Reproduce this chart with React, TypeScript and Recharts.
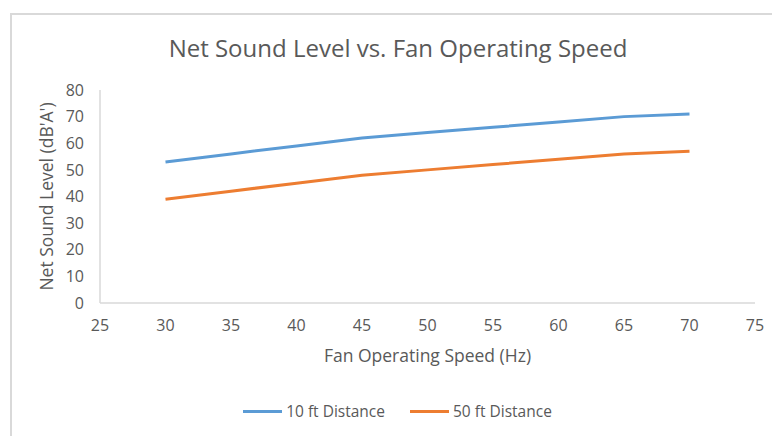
import React from 'react';
import { LineChart, Line, XAxis, YAxis, Legend } from 'recharts';

// fan speed (Hz) and net sound level (dB'A') at two distances
const speeds = [30, 35, 40, 45, 50, 55, 60, 65, 70];
const dist10ft = [53, 56, 59, 62, 64, 66, 68, 70, 71];
const dist50ft = [39, 42, 45, 48, 50, 52, 54, 56, 57];
const xTicks = [25, 30, 35, 40, 45, 50, 55, 60, 65, 70, 75];
const yTicks = [0, 10, 20, 30, 40, 50, 60, 70, 80];

const seriesNames = ['10 ft Distance', '50 ft Distance'];
const colors = ['#5B9BD5', '#ED7D31'];

const data = speeds.map((s, i) => ({ speed: s, d10: dist10ft[i], d50: dist50ft[i] }));

const FONT = "'Open Sans', sans-serif";
const TEXT = '#595959';
const AXIS = '#d9d9d9';

const LegendBox = () => (
    <div style={{ display: 'flex', justifyContent: 'center', alignItems: 'center', gap: '25px', fontFamily: FONT, fontSize: '15.5px', color: TEXT }}>
        {seriesNames.map((n, i) => (
            <div key={n} style={{ display: 'flex', alignItems: 'center' }}>
                <span style={{ display: 'inline-block', width: '39px', height: '3px', background: colors[i], marginRight: '4px' }} />
                <span>{n}</span>
            </div>
        ))}
    </div>
);

export default function App() {
    return (
        <div style={{ position: 'absolute', left: 0, top: 0, width: 772, height: 436, background: '#fff', overflow: 'hidden' }}>
            <div style={{ position: 'absolute', left: 10, top: 13, width: 800, height: 500, borderLeft: `2px solid ${AXIS}`, borderTop: `2px solid ${AXIS}` }} />
            <div style={{ position: 'absolute', left: 0, width: 796, top: 36, textAlign: 'center', fontFamily: FONT, fontSize: '24px', lineHeight: '24px', color: TEXT }}>
                Net Sound Level vs. Fan Operating Speed
            </div>
            <div style={{ position: 'absolute', left: 0, top: 0 }}>
                <LineChart width={772} height={436} data={data} margin={{ top: 90, right: 17, bottom: 6, left: 40 }} style={{ fontFamily: FONT }}>
                    <XAxis
                        dataKey="speed"
                        type="number"
                        domain={[25, 75]}
                        ticks={xTicks}
                        height={97}
                        stroke={AXIS}
                        strokeWidth={1.5}
                        tickLine={false}
                        tickMargin={11}
                        tick={{ fontSize: 16, fill: TEXT, fontFamily: FONT }}
                        label={{ value: 'Fan Operating Speed (Hz)', position: 'insideBottom', offset: 38, fill: TEXT, fontSize: 17.5, fontFamily: FONT }}
                    />
                    <YAxis
                        type="number"
                        domain={[0, 80]}
                        ticks={yTicks}
                        width={60}
                        stroke={AXIS}
                        strokeWidth={1.5}
                        tickLine={false}
                        tickMargin={10}
                        tick={{ fontSize: 16, fill: TEXT, fontFamily: FONT }}
                        label={{ value: "Net Sound Level (dB'A')", angle: -90, position: 'insideLeft', offset: 7, fill: TEXT, fontSize: 17.5, fontFamily: FONT, style: { textAnchor: 'middle' } }}
                    />
                    <Legend verticalAlign="bottom" height={30} content={() => <LegendBox />} />
                    <Line type="linear" dataKey="d10" name={seriesNames[0]} stroke={colors[0]} strokeWidth={3} dot={false} isAnimationActive={false} />
                    <Line type="linear" dataKey="d50" name={seriesNames[1]} stroke={colors[1]} strokeWidth={3} dot={false} isAnimationActive={false} />
                </LineChart>
            </div>
        </div>
    );
}
